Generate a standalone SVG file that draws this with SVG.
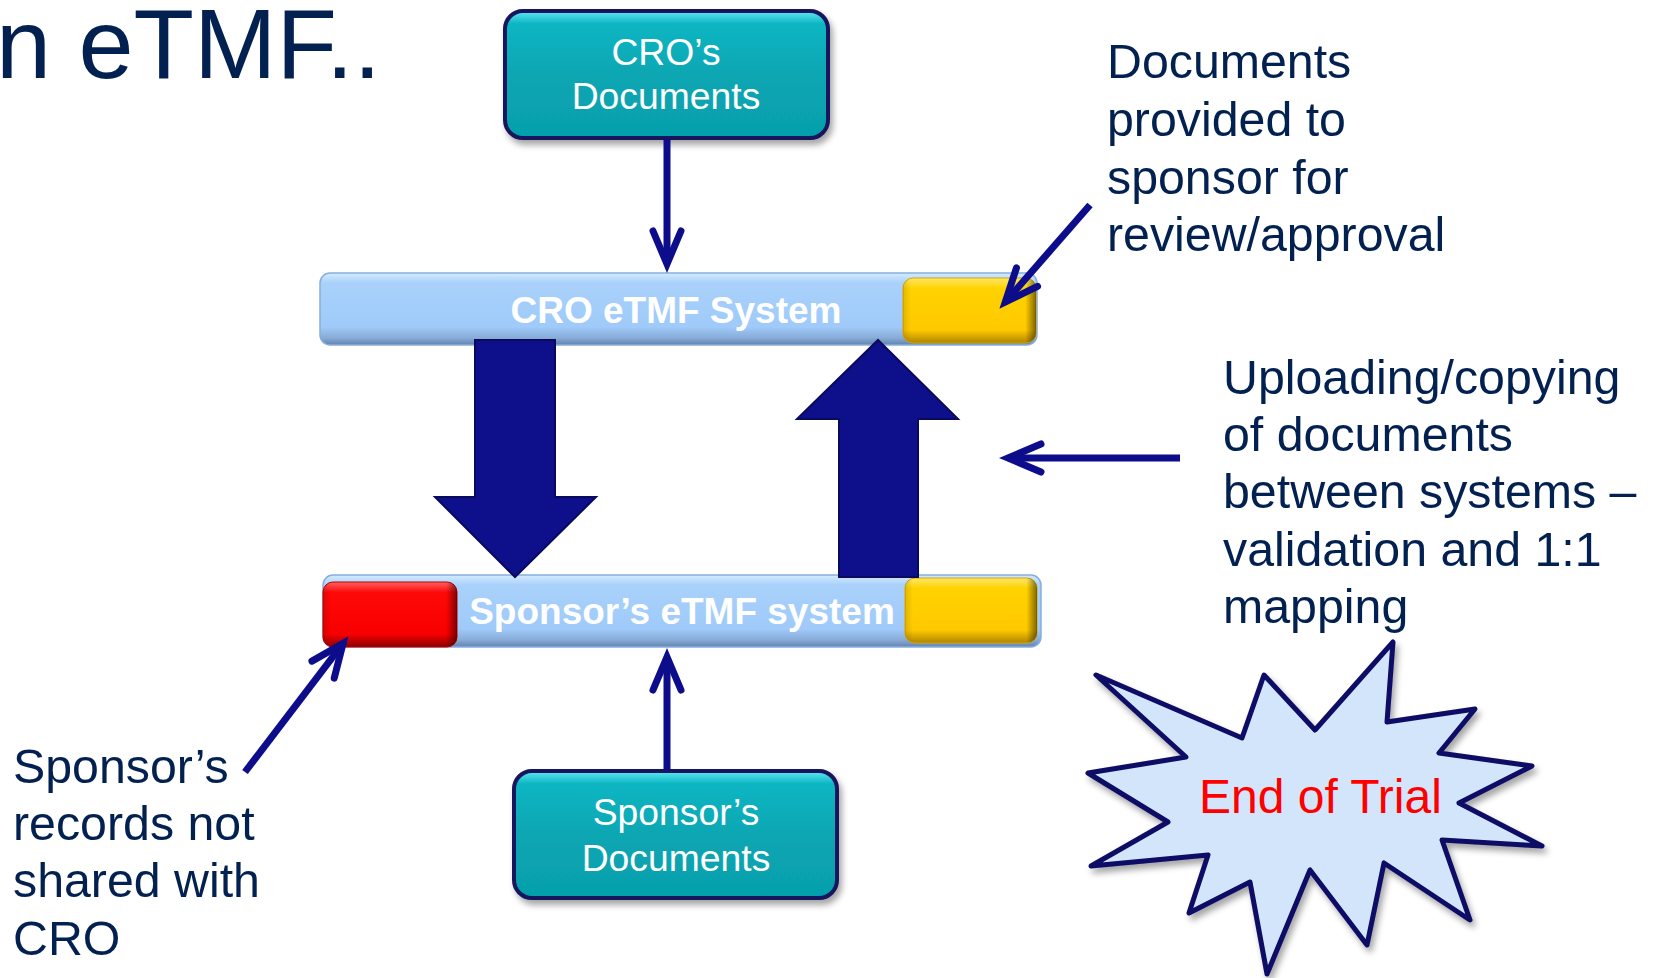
<svg xmlns="http://www.w3.org/2000/svg" width="1654" height="978" viewBox="0 0 1654 978">
  <style>
    .lbl { font-family: "Liberation Sans", Arial, sans-serif; fill: #022050; font-size: 48.3px; }
    .boxtxt { font-family: "Liberation Sans", Arial, sans-serif; fill: #ffffff; font-size: 37.3px; text-anchor: middle; }
    .bartxt { font-family: "Liberation Sans", Arial, sans-serif; fill: #ffffff; font-size: 37px; font-weight: bold; text-anchor: middle; }
    .conn { stroke: #0D0D8C; stroke-width: 7; fill: none; marker-end: url(#vhead); }
    .big { fill: #0E0F8A; stroke: #0A0A5C; stroke-width: 2; }
    .teal { fill: url(#gTeal); stroke: #14145E; stroke-width: 4; filter: url(#shadow); }
    .bar { fill: url(#gBar); stroke: #86AEDD; stroke-width: 1.5; }
    .edge { fill: url(#gEdge); }
  </style>
  <defs>
    <marker id="vhead" markerUnits="userSpaceOnUse" viewBox="-40 -20 50 40" refX="0" refY="0" markerWidth="50" markerHeight="40" orient="auto" overflow="visible">
      <path d="M -33 -14 L 0 0 L -33 14" fill="none" stroke="#0D0D8C" stroke-width="7" stroke-linecap="round" stroke-linejoin="miter" stroke-miterlimit="10"/>
    </marker>
    <linearGradient id="gBar" x1="0" y1="0" x2="0" y2="1">
      <stop offset="0" stop-color="#D4EBFF"/>
      <stop offset="0.14" stop-color="#A9D1FB"/>
      <stop offset="0.75" stop-color="#9FCAF9"/>
      <stop offset="0.9" stop-color="#88ACD8"/>
      <stop offset="1" stop-color="#6283AD"/>
    </linearGradient>
    <linearGradient id="gYel" x1="0" y1="0" x2="0" y2="1">
      <stop offset="0" stop-color="#FFE86A"/>
      <stop offset="0.16" stop-color="#FFD200"/>
      <stop offset="0.8" stop-color="#FFC900"/>
      <stop offset="1" stop-color="#B08400"/>
    </linearGradient>
    <linearGradient id="gRed" x1="0" y1="0" x2="0" y2="1">
      <stop offset="0" stop-color="#FF6060"/>
      <stop offset="0.16" stop-color="#FF0808"/>
      <stop offset="0.8" stop-color="#F80000"/>
      <stop offset="1" stop-color="#8C0000"/>
    </linearGradient>
    <linearGradient id="gEdge" x1="0" y1="0" x2="1" y2="0">
      <stop offset="0" stop-color="#000000" stop-opacity="0.12"/>
      <stop offset="0.06" stop-color="#000000" stop-opacity="0"/>
      <stop offset="0.92" stop-color="#000000" stop-opacity="0"/>
      <stop offset="1" stop-color="#000000" stop-opacity="0.5"/>
    </linearGradient>
    <linearGradient id="gTeal" x1="0" y1="0" x2="0" y2="1">
      <stop offset="0" stop-color="#62E8F4"/>
      <stop offset="0.1" stop-color="#0CB6C3"/>
      <stop offset="0.5" stop-color="#08A6B3"/>
      <stop offset="1" stop-color="#069FAC"/>
    </linearGradient>
    <filter id="shadow" x="-10%" y="-10%" width="130%" height="140%">
      <feDropShadow dx="3" dy="5" stdDeviation="3" flood-color="#000000" flood-opacity="0.35"/>
    </filter>
  </defs>

  <rect width="1654" height="978" fill="#ffffff"/>

  <g id="title">
    <text x="-4" y="78" font-family="'Liberation Sans', Arial, sans-serif" font-size="99" fill="#022050">n eTMF..</text>
  </g>

  <g id="cro-documents">
    <rect class="teal" x="505" y="11" width="323" height="127" rx="18"/>
    <text class="boxtxt" x="666" y="65">CRO’s</text>
    <text class="boxtxt" x="666" y="109">Documents</text>
  </g>

  <g id="cro-etmf-system">
    <rect class="bar" x="320" y="273" width="717" height="72" rx="10"/>
    <text class="bartxt" x="676" y="323">CRO eTMF System</text>
    <g id="cro-shared-block">
      <rect x="903" y="278" width="133" height="65" rx="10" fill="url(#gYel)" stroke="#D9A400" stroke-width="1"/>
      <rect class="edge" x="903" y="278" width="133" height="65" rx="10"/>
    </g>
  </g>

  <g id="sponsor-etmf-system">
    <rect class="bar" x="323" y="575" width="718" height="72" rx="10"/>
    <g id="sponsor-private-block">
      <rect x="323" y="582" width="134" height="65" rx="10" fill="url(#gRed)" stroke="#C00000" stroke-width="1"/>
      <rect class="edge" x="323" y="582" width="134" height="65" rx="10"/>
    </g>
    <g id="sponsor-shared-block">
      <rect x="905" y="578" width="132" height="65" rx="10" fill="url(#gYel)" stroke="#D9A400" stroke-width="1"/>
      <rect class="edge" x="905" y="578" width="132" height="65" rx="10"/>
    </g>
    <text class="bartxt" x="682" y="624">Sponsor’s eTMF system</text>
  </g>

  <g id="sponsor-documents">
    <rect class="teal" x="514" y="771" width="323" height="127" rx="18"/>
    <text class="boxtxt" x="676" y="825">Sponsor’s</text>
    <text class="boxtxt" x="676" y="871">Documents</text>
  </g>

  <g id="note-review">
    <text class="lbl" x="1107" y="78">Documents</text>
    <text class="lbl" x="1107" y="136">provided to</text>
    <text class="lbl" x="1107" y="194">sponsor for</text>
    <text class="lbl" x="1107" y="251">review/approval</text>
  </g>

  <g id="note-uploading">
    <text class="lbl" x="1223" y="394">Uploading/copying</text>
    <text class="lbl" x="1223" y="451">of documents</text>
    <text class="lbl" x="1223" y="508">between systems –</text>
    <text class="lbl" x="1223" y="566">validation and 1:1</text>
    <text class="lbl" x="1223" y="623">mapping</text>
  </g>

  <g id="note-sponsor-records">
    <text class="lbl" x="13" y="783">Sponsor’s</text>
    <text class="lbl" x="13" y="840">records not</text>
    <text class="lbl" x="13" y="897">shared with</text>
    <text class="lbl" x="13" y="955">CRO</text>
  </g>

  <g id="end-of-trial">
    <polygon points="1096,675 1242,738 1264,675 1315,730 1393,642 1387,722 1475,709 1439,753 1532,766 1459,803 1542,846 1442,840 1470,920 1384,863 1367,945 1310,870 1267,974 1250,882 1189,913 1208,855 1091,866 1168,822 1088,773 1186,757" fill="#D3E5FB" stroke="#0B0B66" stroke-width="5" stroke-linejoin="round" filter="url(#shadow)"/>
    <text x="1199" y="813" font-family="'Liberation Sans', Arial, sans-serif" font-size="48" fill="#FF0000">End of Trial</text>
  </g>

  <g id="connectors">
    <polygon class="big" points="475,340 555,340 555,497 596,497 515,577 435,497 475,497"/>
    <polygon class="big" points="839,577 918,577 918,419 958,419 878,340 797,419 839,419"/>
    <line class="conn" x1="667" y1="139" x2="667" y2="264"/>
    <line class="conn" x1="667" y1="770" x2="667" y2="657"/>
    <line class="conn" x1="1090" y1="205" x2="1005.3" y2="302"/>
    <line class="conn" x1="1180" y1="458" x2="1008" y2="458"/>
    <line class="conn" x1="245" y1="772" x2="343.1" y2="643.4"/>
  </g>
</svg>
